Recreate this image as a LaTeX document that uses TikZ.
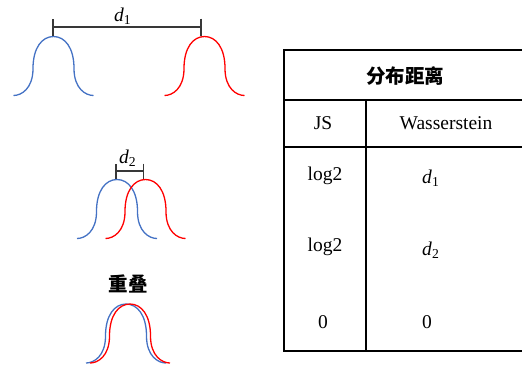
\documentclass[tikz,border=0pt]{standalone}
\usepackage{fontspec}
\setmainfont{Liberation Serif}
\newfontfamily\cjk{Noto Sans CJK SC}
\usetikzlibrary{arrows.meta}
\newcommand{\bell}[3]{% centre, base line, colour
  \draw[curve, #3, shift={(#1,#2)}] (-40,0)
    .. controls (-32,0) and (-20.5,-7) .. (-20.5,-27)
    .. controls (-20.5,-48) and (-11.3,-59) .. (0,-59)
    .. controls (11.3,-59) and (20.5,-48) .. (20.5,-27)
    .. controls (20.5,-7) and (32,0) .. (40,0);}
\newcommand{\dd}[1]{\textit{d}\textsubscript{#1}}

\begin{document}
\begin{tikzpicture}[x=0.5pt, y=-0.5pt,
  font=\fontsize{9.75}{11}\selectfont,
  curve/.style={line width=0.65pt},
  dim/.style={{Bar[width=8.5pt]}-{Bar[width=8.5pt]}, line width=0.75pt, black!78},
  rule/.style={line width=0.55pt, black},
  cell/.style={inner sep=1pt},
  head/.style={font=\fontsize{9.75}{11}\selectfont\cjk\bfseries}
]
\useasboundingbox (0,0) rectangle (522,370);
\definecolor{bblue}{RGB}{68,114,196}

% far apart
\bell{53.5}{95.5}{bblue}
\bell{204.5}{95.5}{red}
\coordinate (p1) at (52,27);
\coordinate (q1) at (201.5,27);
\draw[dim] (p1) -- (q1);
\node (lab1) at (123,16) {\dd{1}};

% close
\bell{117}{238.5}{bblue}
\bell{145.5}{238.5}{red}
\coordinate (p2) at (115,171);
\coordinate (q2) at (144,171);
\draw[dim, {Bar[width=7.5pt]}-{Bar[width=7.5pt]}] (p2) -- (q2);
\node (lab2) at (128,158) {\dd{2}};

% overlapping
\node[head] (over) at (128,284) {重叠};
\bell{126}{363}{bblue}
\bell{130}{363}{red}

% table
\draw[rule] (522,50) -- (284,50) -- (284,351) -- (522,351);
\draw[rule] (284,100) -- (522,100);
\draw[rule] (284,147) -- (522,147);
\draw[rule] (366,100) -- (366,351);
\node[head] (title) at (405,76) {分布距离};
\node[cell] (js) at (323,123) {JS};
\node[cell] (ws) at (446,123) {Wasserstein};
\node[cell] (js1) at (325,176) {log2};
\node[cell] (ws1) at (431,178) {\dd{1}};
\node[cell] (js2) at (325,247) {log2};
\node[cell] (ws2) at (431,250) {\dd{2}};
\node[cell] (js3) at (323,322) {0};
\node[cell] (ws3) at (427,322) {0};
\end{tikzpicture}
\end{document}
